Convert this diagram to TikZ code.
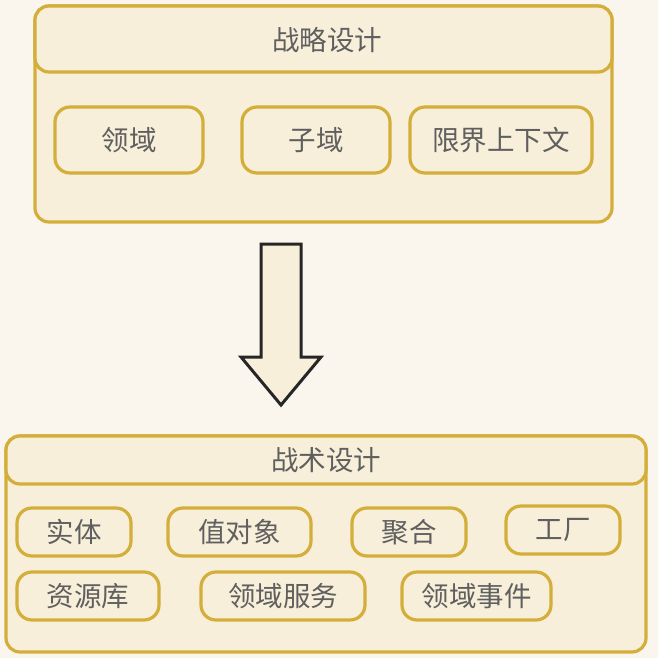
\documentclass[tikz,border=0pt]{standalone}
\usepackage{fontspec}
\newfontfamily\cjk{Noto Sans CJK SC}
\definecolor{bg}{HTML}{FAF6EE}
\definecolor{boxfill}{HTML}{F7EFDA}
\definecolor{gold}{HTML}{D4AE3A}
\definecolor{txt}{HTML}{5F5F5F}
\tikzset{
  px/.style={x=1pt,y=-1pt},
  outerbox/.style={draw=gold,fill=boxfill,line width=3.2pt,rounded corners=14pt},
  itembox/.style={draw=gold,fill=boxfill,line width=3.2pt,rounded corners=15pt},
  lbl/.style={font=\cjk\fontsize{27.5}{30}\selectfont,text=txt,inner sep=0pt},
}
\begin{document}
\begin{tikzpicture}[px]
\fill[bg] (0,0) rectangle (658,658);
\useasboundingbox (0,0) rectangle (658,658);
% top group
\draw[outerbox] (35,6) rectangle (612,222);
\draw[outerbox] (35,6) rectangle (612,72);
\node[lbl] (t1) at (327,40) {战略设计};
\draw[itembox] (55,107) rectangle (203,173);
\node[lbl] (a1) at (129,140) {领域};
\draw[itembox] (242,107) rectangle (390,173);
\node[lbl] (a2) at (316,140) {子域};
\draw[itembox] (410,107) rectangle (592,173);
\node[lbl] (a3) at (501,140) {限界上下文};
% arrow
\draw[line width=3pt,draw=black!85,fill=boxfill,line join=miter]
  (261,244) -- (301,244) -- (301,357) -- (321,357) -- (281,405) -- (241,357) -- (261,357) -- cycle;
% bottom group
\draw[outerbox] (6,436) rectangle (646,652);
\draw[outerbox] (6,436) rectangle (646,484);
\node[lbl] (t2) at (326,460) {战术设计};
\draw[itembox] (17,508) rectangle (131,556);
\node[lbl] (b1) at (74,532) {实体};
\draw[itembox] (168,508) rectangle (311,556);
\node[lbl] (b2) at (239.5,532) {值对象};
\draw[itembox] (352,508) rectangle (466,556);
\node[lbl] (b3) at (409,532) {聚合};
\draw[itembox] (506,506) rectangle (620,554);
\node[lbl] (b4) at (563,530) {工厂};
\draw[itembox] (17,572) rectangle (159,620);
\node[lbl] (b5) at (88,596) {资源库};
\draw[itembox] (201,572) rectangle (365,620);
\node[lbl] (b6) at (283,596) {领域服务};
\draw[itembox] (402,572) rectangle (551,620);
\node[lbl] (b7) at (476.5,596) {领域事件};
\end{tikzpicture}
\end{document}
